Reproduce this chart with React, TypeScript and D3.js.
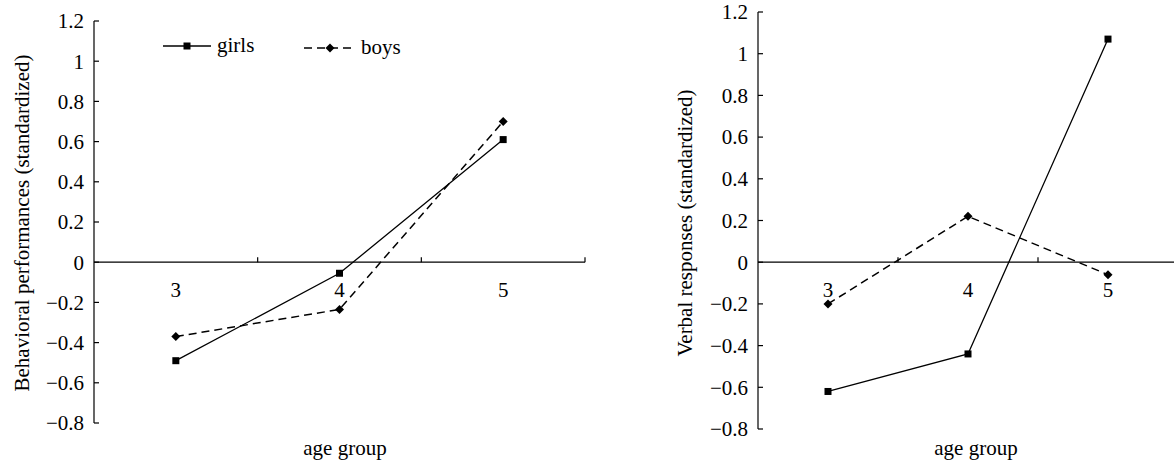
import React from "react";
import * as d3 from "d3";

const ageGroups = ["3", "4", "5"];
const yTicks = [1.2, 1, 0.8, 0.6, 0.4, 0.2, 0, -0.2, -0.4, -0.6, -0.8];
const behavGirls = [-0.49, -0.055, 0.61];
const behavBoys = [-0.37, -0.235, 0.7];
const verbalGirls = [-0.62, -0.44, 1.07];
const verbalBoys = [-0.2, 0.22, -0.06];

const FONT = "'Liberation Serif', 'Times New Roman', serif";
const FS = 21;

const fmt = (v: number) => {
  const s = String(Math.abs(v));
  return v < 0 ? "\u2212" + s : s;
};

function Square({ x, y }: { x: number; y: number }) {
  return <rect x={x - 3.5} y={y - 3.5} width={7} height={7} fill="#000" />;
}
function Diamond({ x, y }: { x: number; y: number }) {
  return <path d={`M${x},${y - 4.5}L${x + 4.5},${y}L${x},${y + 4.5}L${x - 4.5},${y}Z`} fill="#000" />;
}

type PanelProps = {
  axisX: number;
  axisEnd: number;
  yTop: number;
  yBottom: number;
  girls: number[];
  boys: number[];
  ylabel: string;
  ylabelX: number;
  xLabelX: number;
  legend?: boolean;
};

function Panel(p: PanelProps) {
  const x = d3.scaleBand<string>().domain(ageGroups).range([p.axisX, p.axisEnd]);
  const y = d3.scaleLinear().domain([-0.8, 1.2]).range([p.yBottom, p.yTop]);
  const cx = (c: string) => (x(c) as number) + x.bandwidth() / 2;
  const line = d3
    .line<number>()
    .x((_, i) => cx(ageGroups[i]))
    .y((d) => y(d));
  const y0 = y(0);
  const bounds = ageGroups.map((c) => (x(c) as number) + x.bandwidth());
  return (
    <g>
      {/* y axis */}
      <line x1={p.axisX} x2={p.axisX} y1={y(1.2)} y2={y(-0.8)} stroke="#000" strokeWidth={1.2} />
      {yTicks.map((t) => (
        <g key={t}>
          <line x1={p.axisX} x2={p.axisX + 5} y1={y(t)} y2={y(t)} stroke="#000" strokeWidth={1.2} />
          <text x={p.axisX - 10} y={y(t)} dy="0.35em" textAnchor="end" fontSize={FS} fontFamily={FONT}>
            {fmt(t)}
          </text>
        </g>
      ))}
      {/* x axis */}
      <line x1={p.axisX} x2={p.axisEnd} y1={y0} y2={y0} stroke="#000" strokeWidth={1.2} />
      {bounds.map((b, i) => (
        <line key={i} x1={b} x2={b} y1={y0} y2={y0 - 5} stroke="#000" strokeWidth={1.2} />
      ))}
      {ageGroups.map((c) => (
        <text key={c} x={cx(c)} y={297} textAnchor="middle" fontSize={FS} fontFamily={FONT}>
          {c}
        </text>
      ))}
      <text x={p.xLabelX} y={455} textAnchor="middle" fontSize={FS} fontFamily={FONT}>
        age group
      </text>
      <text
        transform={`translate(${p.ylabelX},223) rotate(-90)`}
        textAnchor="middle"
        dy="0.3em"
        fontSize={FS}
        fontFamily={FONT}
      >
        {p.ylabel}
      </text>
      {/* series */}
      <path d={line(p.girls) || ""} fill="none" stroke="#000" strokeWidth={1.3} />
      <path d={line(p.boys) || ""} fill="none" stroke="#000" strokeWidth={1.5} strokeDasharray="8,5" />
      {p.girls.map((v, i) => (
        <Square key={"g" + i} x={cx(ageGroups[i])} y={y(v)} />
      ))}
      {p.boys.map((v, i) => (
        <Diamond key={"b" + i} x={cx(ageGroups[i])} y={y(v)} />
      ))}
      {p.legend && (
        <g>
          <line x1={163} x2={211} y1={46} y2={46} stroke="#000" strokeWidth={1.3} />
          <Square x={187} y={46} />
          <text x={217} y={52} fontSize={FS} fontFamily={FONT}>
            girls
          </text>
          <line x1={304} x2={352} y1={48} y2={48} stroke="#000" strokeWidth={1.5} strokeDasharray="8,5" />
          <Diamond x={330} y={48} />
          <text x={361} y={54} fontSize={FS} fontFamily={FONT}>
            boys
          </text>
        </g>
      )}
    </g>
  );
}

export default function App() {
  return (
    <svg width={1174} height={464} style={{ display: "block", position: "absolute", left: 0, top: 0, background: "#fff" }}>
      <Panel
        axisX={94}
        axisEnd={585}
        yTop={21}
        yBottom={423}
        girls={behavGirls}
        boys={behavBoys}
        ylabel="Behavioral performances (standardized)"
        ylabelX={23}
        xLabelX={345}
        legend
      />
      <Panel
        axisX={758}
        axisEnd={1178}
        yTop={12}
        yBottom={429}
        girls={verbalGirls}
        boys={verbalBoys}
        ylabel="Verbal responses (standardized)"
        ylabelX={686}
        xLabelX={976}
      />
    </svg>
  );
}
